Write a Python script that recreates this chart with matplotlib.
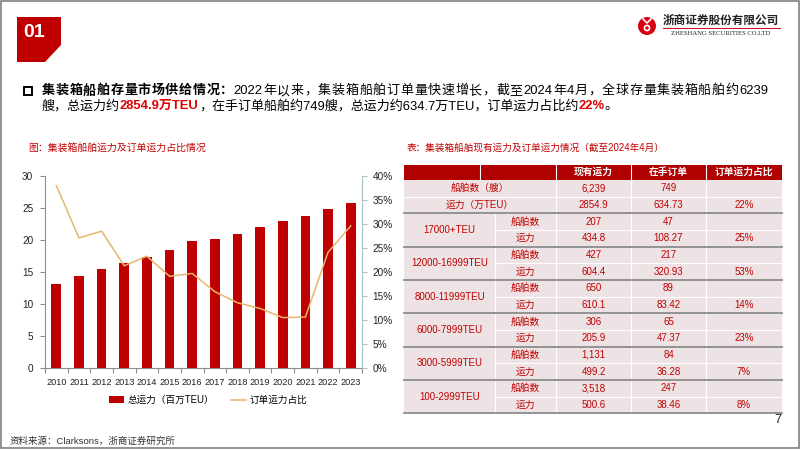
import matplotlib
matplotlib.use('Agg')
import numpy as np
import matplotlib.pyplot as plt
import matplotlib.patches as patches
from matplotlib.ticker import FuncFormatter

plt.rcParams['font.family'] = ['Liberation Sans', 'Noto Sans CJK SC', 'DejaVu Sans']

# chart data
years = [str(y) for y in range(2010, 2024)]
capacity = [13.1, 14.3, 15.4, 16.4, 17.4, 18.4, 19.9, 20.2, 20.9, 22.1, 23.0, 23.7, 24.8, 25.8]
order_share = [38.0, 27.1, 28.5, 21.3, 23.3, 19.1, 19.7, 15.9, 13.6, 12.4, 10.5, 10.6, 24.1, 29.6]

# table data
tbl_header = ['现有运力', '在手订单', '订单运力占比']
total_labels = ['船舶数（艘）', '运力（万TEU）']
total_fleet = ['6,239', '2854.9']
total_order = ['749', '634.73']
total_pct = ['', '22%']
size_classes = ['17000+TEU', '12000-16999TEU', '8000-11999TEU', '6000-7999TEU', '3000-5999TEU', '100-2999TEU']
fleet_ships = ['207', '427', '650', '306', '1,131', '3,518']
fleet_cap = ['434.8', '604.4', '610.1', '205.9', '499.2', '500.6']
order_ships = ['47', '217', '89', '65', '84', '247']
order_cap = ['108.27', '320.93', '83.42', '47.37', '36.28', '38.46']
order_pct = ['25%', '53%', '14%', '23%', '7%', '8%']

RED = '#C00000'
W, H = 802, 451
fig = plt.figure(figsize=(W / 100, H / 100), dpi=100)
bg = fig.add_axes([0, 0, 1, 1])
bg.set_xlim(0, W)
bg.set_ylim(H, 0)
bg.axis('off')

# slide frame
bg.add_patch(patches.Rectangle((1, 1), 798, 447, fill=False, ec='#808080', lw=1.2))

# section badge
bg.add_patch(patches.Polygon([(17, 17), (61, 17), (61, 45), (45, 62), (17, 62)], closed=True, color=RED, lw=0))
bg.text(34, 32.5, '01', color='white', fontsize=14, fontweight='bold', ha='center', va='center')

# logo
bg.add_patch(patches.Circle((647, 26), 9, color='#D7000F', lw=0))
bg.add_patch(patches.Circle((647, 28), 3.4, color='white', lw=0))
bg.add_patch(patches.Circle((647, 28), 1.7, color='#D7000F', lw=0))
bg.plot([643, 647, 651], [19, 23, 19], color='white', lw=1.2)
bg.text(721, 20.5, '浙商证券股份有限公司', fontsize=8.4, fontweight='bold', color='#222222', ha='center', va='center',
        family=['Noto Sans CJK SC'])
bg.plot([663, 780], [28.3, 28.3], color='#D7000F', lw=0.7)
bg.text(721, 33.5, 'ZHESHANG SECURITIES CO.LTD', fontsize=4.8, color='#222222', ha='center', va='center',
        family=['Liberation Serif'])

# paragraph
bg.add_patch(patches.Rectangle((23.5, 86.5), 8, 8, fill=False, ec='black', lw=1.4))
renderer = fig.canvas.get_renderer()


def tokens(s):
    out, buf = [], ''
    for ch in s:
        if ord(ch) < 128:
            buf += ch
        else:
            if buf:
                out.append(buf)
                buf = ''
            out.append(ch)
    if buf:
        out.append(buf)
    return out


def run(x, y, parts, size):
    for s, c, w in parts:
        t = bg.text(x, y, s, color=c, fontweight=w, fontsize=size, ha='left', va='center')
        x += t.get_window_extent(renderer=renderer).width
    return x


def justify(x0, x1, y, parts, size):
    items = []
    for s, c, w in parts:
        for tok in tokens(s):
            t = bg.text(0, y, tok, color=c, fontweight=w, fontsize=size, ha='left', va='center')
            items.append((t, t.get_window_extent(renderer=renderer).width))
    total = sum(wd for _, wd in items)
    gap = (x1 - x0 - total) / (len(items) - 1)
    x = x0
    for t, wd in items:
        t.set_x(x)
        x += wd + gap


fs = 9.4
justify(42, 768, 91, [('集装箱船舶存量市场供给情况：', 'black', 'bold'),
                      ('2022年以来，集装箱船舶订单量快速增长，截至2024年4月，全球存量集装箱船舶约6239', 'black', 'normal')], fs)
run(42, 106, [('艘，总运力约', 'black', 'normal'),
              ('2854.9万TEU', '#E00000', 'bold'),
              ('，在手订单船舶约749艘，总运力约634.7万TEU，订单运力占比约', 'black', 'normal'),
              ('22%', '#E00000', 'bold'),
              ('。', 'black', 'normal')], fs)

# titles
bg.text(28, 148, '图：集装箱船舶运力及订单运力占比情况', color=RED, fontsize=7.1, va='center')
bg.text(407, 148, '表：集装箱船舶现有运力及订单运力情况（截至2024年4月）', color=RED, fontsize=6.9, va='center')

# ---- chart ----
ax = fig.add_axes([45 / W, 1 - 368 / H, 317 / W, 192 / H])
x = np.arange(len(years))
bars = ax.bar(x, capacity, width=0.43, color=RED, label='总运力（百万TEU）', zorder=2)
ax.set_xlim(-0.5, len(years) - 0.5)
ax.set_ylim(0, 30)
ax.set_yticks(range(0, 31, 5))
ax.set_xticks(x)
ax.set_xticklabels(years)
ax.set_xticks(np.arange(-0.5, len(years), 1), minor=True)
ax.tick_params(axis='x', which='major', length=0, labelsize=6.6, pad=7, labelcolor='#222222')
ax.tick_params(axis='x', which='minor', length=3.5, color='#8C8C8C', width=0.8)
ax.tick_params(axis='y', length=3.5, color='#8C8C8C', width=0.8, labelsize=7.2, labelcolor='#222222', pad=5)
for s in ['top', 'right']:
    ax.spines[s].set_visible(False)
ax.spines['left'].set_color('#8C8C8C')
ax.spines['bottom'].set_color('#8C8C8C')
ax.spines['left'].set_linewidth(0.8)
ax.spines['bottom'].set_linewidth(0.8)
ax.patch.set_alpha(0)

ax2 = ax.twinx()
line, = ax2.plot(x, order_share, color='#E6B56E', lw=1.1, label='订单运力占比', zorder=3)
ax2.set_ylim(0, 40)
ax2.set_yticks(range(0, 41, 5))
ax2.yaxis.set_major_formatter(FuncFormatter(lambda v, p: '{:.0f}%'.format(v)))
ax2.tick_params(axis='y', length=3.5, color='#A9BFC5', width=0.8, labelsize=7.2, labelcolor='#222222', pad=4)
for s in ['top', 'left', 'bottom']:
    ax2.spines[s].set_visible(False)
ax2.spines['right'].set_color('#A9BFC5')
ax2.spines['right'].set_linewidth(0.8)

fig.legend([bars, line], ['总运力（百万TEU）', '订单运力占比'], loc='center', ncol=2,
           bbox_to_anchor=(208 / W, 1 - 400 / H), frameon=False, fontsize=6.9,
           handlelength=1.6, handletextpad=0.3, columnspacing=1.8)

# ---- table ----
cx = [404, 495, 556, 631, 706, 782]
head_sep = [480, 556, 631, 706]
hy0, hy1 = 164.5, 180.0
rh = (413.3 - 180.0) / 14
CELL = '#EEE3E4'
bg.add_patch(patches.Rectangle((cx[0], hy0), cx[-1] - cx[0], hy1 - hy0, color='#B00000', lw=0))
for xc in head_sep:
    bg.plot([xc, xc], [hy0, hy1], color='white', lw=0.8)
for j, h in enumerate(tbl_header):
    bg.text((cx[j + 2] + cx[j + 3]) / 2, (hy0 + hy1) / 2, h, color='white', fontsize=7,
            fontweight='bold', ha='center', va='center')

nrows = 2 + 2 * len(size_classes)
bg.add_patch(patches.Rectangle((cx[0], hy1), cx[-1] - cx[0], nrows * rh, color=CELL, lw=0))


def ry(i):
    return hy1 + i * rh


tk = dict(color=RED, fontsize=7, ha='center', va='center')
mid = [(cx[k] + cx[k + 1]) / 2 for k in range(5)]
for i in range(2):
    yc = ry(i) + rh / 2
    bg.text((cx[0] + cx[2]) / 2, yc, total_labels[i], **tk)
    bg.text(mid[2], yc, total_fleet[i], **tk)
    bg.text(mid[3], yc, total_order[i], **tk)
    bg.text(mid[4], yc, total_pct[i], **tk)
bg.plot([cx[0], cx[-1]], [ry(1), ry(1)], color='white', lw=0.8)

for g, name in enumerate(size_classes):
    r0 = 2 + 2 * g
    bg.text(mid[0], ry(r0 + 1), name, **tk)
    bg.text(mid[1], ry(r0) + rh / 2, '船舶数', **tk)
    bg.text(mid[1], ry(r0 + 1) + rh / 2, '运力', **tk)
    bg.text(mid[2], ry(r0) + rh / 2, fleet_ships[g], **tk)
    bg.text(mid[2], ry(r0 + 1) + rh / 2, fleet_cap[g], **tk)
    bg.text(mid[3], ry(r0) + rh / 2, order_ships[g], **tk)
    bg.text(mid[3], ry(r0 + 1) + rh / 2, order_cap[g], **tk)
    bg.text(mid[4], ry(r0 + 1) + rh / 2, order_pct[g], **tk)
    bg.plot([cx[1], cx[-1]], [ry(r0 + 1), ry(r0 + 1)], color='white', lw=0.8)
    bg.plot([cx[1], cx[1]], [ry(r0), ry(r0 + 2)], color='white', lw=0.8)

for xc in cx[2:-1]:
    bg.plot([xc, xc], [hy1, ry(nrows)], color='white', lw=0.8)
for i in range(2, nrows + 1, 2):
    bg.plot([cx[0], cx[-1]], [ry(i), ry(i)], color='#8C8C8C', lw=1.3)

# footer
bg.text(778, 420, '7', fontsize=9, color='#222222', ha='center', va='center')
bg.text(9, 441, '资料来源：Clarksons，浙商证券研究所', fontsize=6.8, color='#333333', va='center')

fig.savefig('out.png', dpi=100)
